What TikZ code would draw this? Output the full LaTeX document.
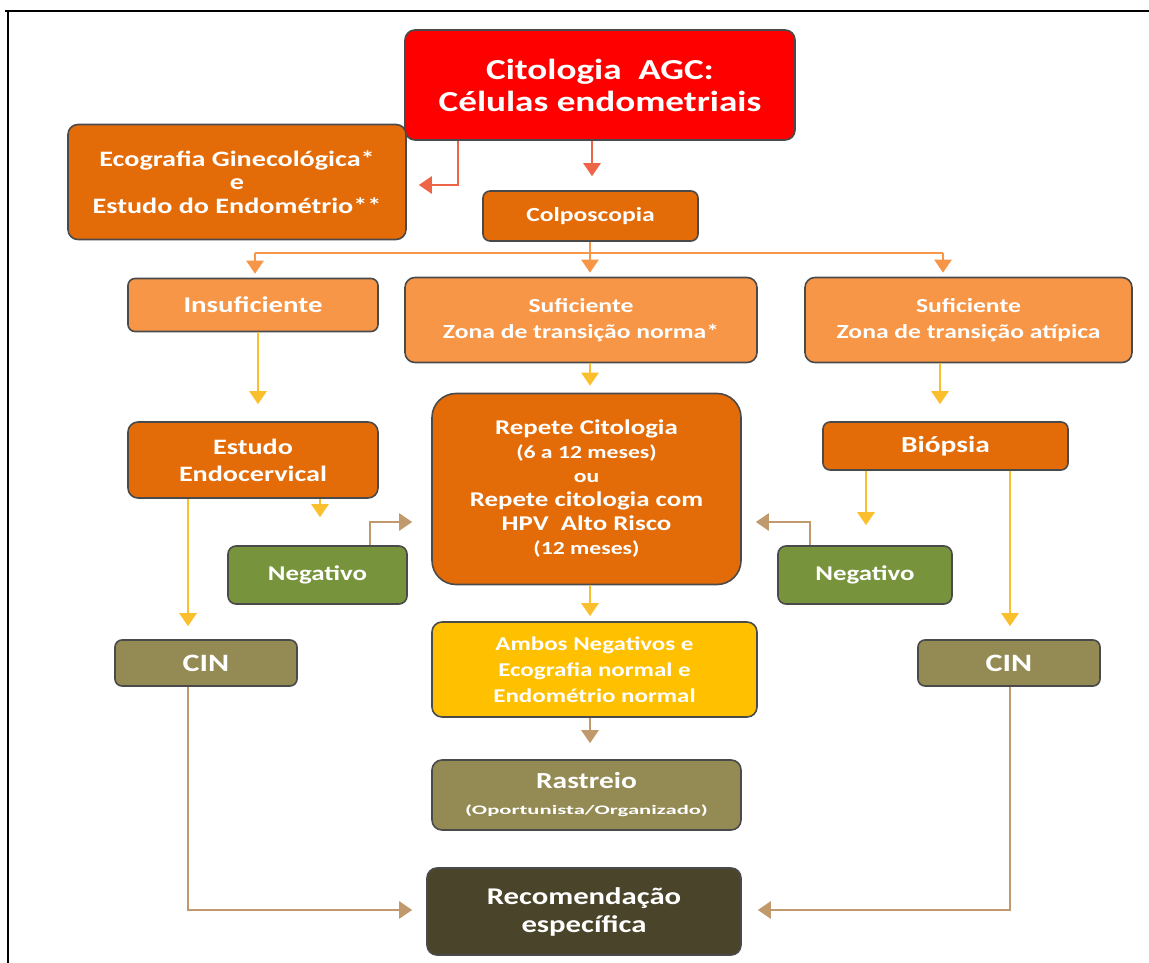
\documentclass[tikz,border=0pt]{standalone}
\usepackage{fontspec}
\usepackage{graphicx}
\setmainfont{Carlito}[FakeStretch=1.28]
\usetikzlibrary{arrows.meta,calc}
\definecolor{cred}{HTML}{FF0000}
\definecolor{corg}{HTML}{E36C09}
\definecolor{clor}{HTML}{F79646}
\definecolor{cgrn}{HTML}{77933C}
\definecolor{coli}{HTML}{948A54}
\definecolor{cdrk}{HTML}{4A452A}
\definecolor{cgold}{HTML}{FFC000}
\definecolor{acor}{HTML}{EE6446}
\definecolor{aorg}{HTML}{F79646}
\definecolor{ayel}{HTML}{FBBF2E}
\definecolor{abrn}{HTML}{C09A6C}
\definecolor{cbrd}{HTML}{4A4A4A}
\tikzset{
  box/.style={draw=cbrd, line width=1.6pt, rounded corners=10pt, align=center,
    text=white, font=\bfseries, inner sep=0pt},
  conn/.style={line width=2.6pt, -{Triangle[width=17pt,length=13pt]}},
  plain/.style={line width=2.6pt},
}
\newcommand{\fs}[2]{\fontsize{#1}{#2}\selectfont}
\begin{document}
\begin{tikzpicture}[x=1pt,y=-1pt]
\useasboundingbox (0,0) rectangle (1149,963);
\draw[line width=2.2pt] (5,11) -- (1149,11);
\draw[line width=2.2pt] (8,11) -- (8,963);
% nodes
\node[box, fill=cred, minimum width=390, minimum height=110, font=\bfseries\fs{29}{32}] (red) at (600,85) {Citologia\ \ AGC:\\Células endometriais};
\node[box, fill=corg, minimum width=338, minimum height=115, font=\bfseries\fs{22}{23.5}] (eco) at (237,182) {Ecografia Ginecológica*\\e\\Estudo do Endométrio**};
\node[box, fill=corg, minimum width=215, minimum height=50, rounded corners=7pt, font=\bfseries\fs{20}{24}] (colp) at (590.5,216) {Colposcopia};
\node[box, fill=clor, minimum width=250, minimum height=53, rounded corners=7pt, font=\bfseries\fs{22.5}{26}] (insuf) at (253,305) {Insuficiente};
\node[box, fill=clor, minimum width=352, minimum height=85, font=\bfseries\fs{20}{26}] (sufn) at (581,320) {Suficiente\\Zona de transição norma*};
\node[box, fill=clor, minimum width=327, minimum height=85, font=\bfseries\fs{20}{26}] (sufa) at (968.5,320) {Suficiente\\Zona de transição atípica};
\node[box, fill=corg, minimum width=250, minimum height=76, font=\bfseries\fs{22}{27}] (estudo) at (253,460) {Estudo\\Endocervical};
\node[box, fill=corg, minimum width=309, minimum height=191, rounded corners=24pt, font=\bfseries\fs{21}{24}] (repete) at (586.5,489) {Repete Citologia\\{\fs{18.5}{22}(6 a 12 meses)}\\{\fs{18.5}{24}ou}\\Repete citologia com\\HPV\ \ Alto Risco\\{\fs{18.5}{24}(12 meses)}};
\node[box, fill=corg, minimum width=245, minimum height=48, rounded corners=7pt, font=\bfseries\fs{23}{24}] (biop) at (945.5,446) {Biópsia};
\node[box, fill=cgrn, minimum width=179, minimum height=58, rounded corners=8pt, font=\bfseries\fs{21}{24}] (negL) at (317.5,575) {Negativo};
\node[box, fill=cgrn, minimum width=174, minimum height=58, rounded corners=8pt, font=\bfseries\fs{21}{24}] (negR) at (865,575) {Negativo};
\node[box, fill=coli, minimum width=182, minimum height=46, rounded corners=7pt, font=\bfseries\fs{25}{26}] (cinL) at (206,663) {CIN};
\node[box, fill=coli, minimum width=182, minimum height=46, rounded corners=7pt, font=\bfseries\fs{25}{26}] (cinR) at (1009,663) {CIN};
\node[box, fill=cgold, minimum width=325, minimum height=95, font=\bfseries\fs{19.5}{26}] (ambos) at (594.5,669.5) {Ambos Negativos e\\Ecografia normal e\\Endométrio normal};
\node[box, fill=coli, minimum width=309, minimum height=70, font=\bfseries\fs{23}{26}] (rast) at (586.5,795) {Rastreio\\{\fs{13}{17}\scalebox{1.36}[1]{(Oportunista/Organizado)}}};
\node[box, fill=cdrk, minimum width=314, minimum height=87, font=\bfseries\fs{24}{28}] (recom) at (584,911.5) {Recomendação\\específica};
% connectors
\draw[conn, acor] (458,0 |- red.south) -- (458,185) -- (eco.east |- 0,185) [shorten >=12pt];
\draw[conn, acor, shorten >=14pt] (592,0 |- red.south) -- (592,0 |- colp.north);
\coordinate (jn) at (590,253);
\draw[plain, aorg] (colp.south -| jn) -- (jn);
\draw[plain, aorg] (255,253) -- (943,253);
\draw[conn, aorg, shorten >=4pt] (255,253) -- (255,0 |- insuf.north);
\draw[conn, aorg, shorten >=4pt] (jn) -- (jn |- sufn.north);
\draw[conn, aorg, shorten >=4pt] (943,253) -- (943,0 |- sufa.north);
\draw[conn, ayel, shorten >=17pt] (258,0 |- insuf.south) -- (258,0 |- estudo.north);
\draw[conn, ayel, shorten >=7pt] (590,0 |- sufn.south) -- (590,0 |- repete.north);
\draw[conn, ayel, shorten >=17pt] (940,0 |- sufa.south) -- (940,0 |- biop.north);
\draw[conn, ayel, shorten >=28pt] (320,0 |- estudo.south) -- (320,0 |- negL.north);
\draw[conn, ayel, shorten >=20pt] (866,0 |- biop.south) -- (866,0 |- negR.north);
\draw[conn, ayel, shorten >=13pt] (188,0 |- estudo.south) -- (188,0 |- cinL.north);
\draw[conn, ayel, shorten >=13pt] (1010,0 |- biop.south) -- (1010,0 |- cinR.north);
\draw[conn, ayel, shorten >=5pt] (590,0 |- repete.south) -- (590,0 |- ambos.north);
\draw[conn, abrn, shorten >=16pt] (590,0 |- ambos.south) -- (590,0 |- rast.north);
\draw[conn, abrn, shorten >=19pt] (370,0 |- negL.north) -- (370,522) -- (repete.west |- 0,522);
\draw[conn, abrn, shorten >=14pt] (810,0 |- negR.north) -- (810,522) -- (repete.east |- 0,522);
\draw[conn, abrn, shorten >=14pt] (188,0 |- cinL.south) -- (188,910) -- (recom.west |- 0,910);
\draw[conn, abrn, shorten >=16pt] (1010,0 |- cinR.south) -- (1010,910) -- (recom.east |- 0,910);
\end{tikzpicture}
\end{document}
